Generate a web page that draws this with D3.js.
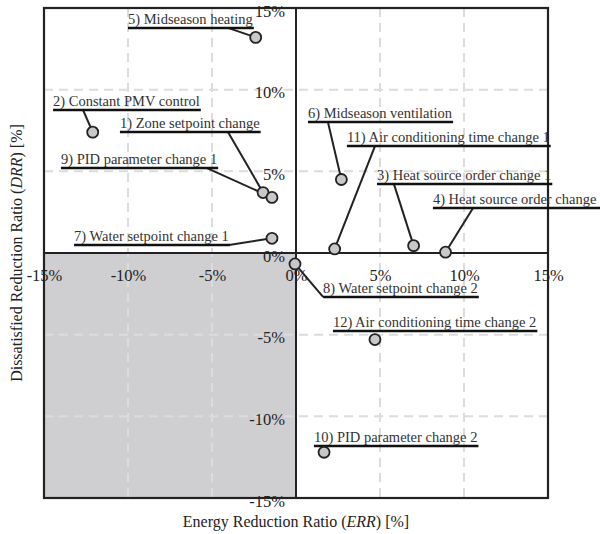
<!DOCTYPE html>
<html>
<head>
<meta charset="utf-8">
<script src="https://cdn.jsdelivr.net/npm/d3@7"></script>
<style>
    body { margin: 0; background: #fff; }
    text { font-family: "Liberation Serif", "Times New Roman", serif; }
</style>
</head>
<body>
<div class="chart"></div>
<script>
// measures (ERR, DRR) in %
const names = [
    "1) Zone setpoint change", "2) Constant PMV control", "3) Heat source order change 1",
    "4) Heat source order change 2", "5) Midseason heating", "6) Midseason ventilation",
    "7) Water setpoint change 1", "8) Water setpoint change 2", "9) PID parameter change 1",
    "10) PID parameter change 2", "11) Air conditioning time change 1", "12) Air conditioning time change 2"
];
const errValues = [-1.96, -12.1, 7.0, 8.9, -2.4, 2.7, -1.43, -0.06, -1.43, 1.67, 2.3, 4.7];
const drrValues = [3.7, 7.4, 0.45, 0.05, 13.2, 4.5, 0.9, -0.67, 3.4, -12.2, 0.25, -5.3];

// label anchors (start of underline) and leader attach point, in data units
const labelErr = [-10.48, -14.46, 4.82, 8.15, -10.0, 0.71, -13.21, 1.61, -13.99, 1.07, 3.03, 2.2];
const labelDrr = [7.41, 8.76, 4.22, 2.76, 13.78, 8.02, 0.49, -2.69, 5.2, -11.82, 6.55, -4.78];
const leaderErr = [-4.05, -12.68, 5.83, 10.54, -4.05, 1.9, -3.99, 1.61, -5.3, null, 4.7, null];

const xTicks = [-15, -10, -5, 0, 5, 10, 15];
const yTicks = [-15, -10, -5, 0, 5, 10, 15];

const width = 600, height = 534;
const margin = { top: 8, right: 52, bottom: 36, left: 44 };

const svg = d3.select(".chart").append("svg")
    .attr("width", width)
    .attr("height", height);

const x = d3.scaleLinear().domain([-15, 15]).range([margin.left, width - margin.right]);
const y = d3.scaleLinear().domain([-15, 15]).range([height - margin.bottom, margin.top]);

// shaded quadrant (both ratios negative)
svg.append("rect")
    .attr("x", x(-15)).attr("y", y(0))
    .attr("width", x(0) - x(-15)).attr("height", y(-15) - y(0))
    .attr("fill", "#cfcfd1");

// dashed grid
const grid = svg.append("g")
    .attr("stroke", "#dcdcdc")
    .attr("stroke-width", 2)
    .attr("stroke-dasharray", "9,6");
grid.selectAll(".gx")
    .data(xTicks.filter(d => d !== 0 && Math.abs(d) !== 15))
    .join("line")
    .attr("x1", d => x(d)).attr("x2", d => x(d))
    .attr("y1", y(15)).attr("y2", y(-15));
grid.selectAll(".gy")
    .data(yTicks.filter(d => d !== 0 && Math.abs(d) !== 15))
    .join("line")
    .attr("y1", d => y(d)).attr("y2", d => y(d))
    .attr("x1", x(-15)).attr("x2", x(15));

// zero lines + frame
svg.append("line")
    .attr("x1", x(0)).attr("x2", x(0)).attr("y1", y(15)).attr("y2", y(-15))
    .attr("stroke", "#222").attr("stroke-width", 2);
svg.append("line")
    .attr("x1", x(-15)).attr("x2", x(15)).attr("y1", y(0)).attr("y2", y(0))
    .attr("stroke", "#222").attr("stroke-width", 2);
svg.append("rect")
    .attr("x", x(-15)).attr("y", y(15))
    .attr("width", x(15) - x(-15)).attr("height", y(-15) - y(15))
    .attr("fill", "none").attr("stroke", "#222").attr("stroke-width", 2.2);

// axes through the origin
const xAxis = svg.append("g")
    .attr("transform", `translate(0,${y(0)})`)
    .call(d3.axisBottom(x).tickValues(xTicks).tickSize(0).tickPadding(16).tickFormat(d => d + "%"));
const yAxis = svg.append("g")
    .attr("transform", `translate(${x(0)},0)`)
    .call(d3.axisLeft(y).tickValues(yTicks).tickSize(0).tickPadding(11).tickFormat(d => d + "%"));
[xAxis, yAxis].forEach(g => {
    g.select(".domain").remove();
    g.selectAll("text")
        .attr("font-size", 16.5)
        .attr("fill", "#222");
});
yAxis.selectAll("text").attr("dy", "0.5em");

// axis titles
const xTitle = svg.append("text")
    .attr("x", x(0)).attr("y", 527)
    .attr("text-anchor", "middle")
    .attr("font-size", 16).attr("fill", "#222");
xTitle.append("tspan").text("Energy Reduction Ratio (");
xTitle.append("tspan").attr("font-style", "italic").text("ERR");
xTitle.append("tspan").text(") [%]");

const yTitle = svg.append("text")
    .attr("transform", `translate(22,${y(0)}) rotate(-90)`)
    .attr("text-anchor", "middle")
    .attr("font-size", 16).attr("fill", "#222");
yTitle.append("tspan").text("Dissatisfied Reduction Ratio (");
yTitle.append("tspan").attr("font-style", "italic").text("DRR");
yTitle.append("tspan").text(") [%]");

// annotations
const idx = d3.range(names.length);

svg.append("g").selectAll("line")
    .data(idx.filter(i => leaderErr[i] !== null))
    .join("line")
    .attr("x1", i => x(leaderErr[i])).attr("y1", i => y(labelDrr[i]))
    .attr("x2", i => x(errValues[i])).attr("y2", i => y(drrValues[i]))
    .attr("stroke", "#222").attr("stroke-width", 2);

const labels = svg.append("g").selectAll("g")
    .data(idx)
    .join("g");
labels.append("text")
    .attr("x", i => x(labelErr[i]))
    .attr("y", i => y(labelDrr[i]) - 4)
    .attr("font-size", 14.5)
    .attr("fill", "#333")
    .text(i => names[i]);
labels.each(function(i) {
    const len = d3.select(this).select("text").node().getComputedTextLength();
    let x2 = x(labelErr[i]) + len + 1;
    if (leaderErr[i] !== null) x2 = Math.max(x2, x(leaderErr[i]));
    d3.select(this).append("line")
        .attr("x1", x(labelErr[i])).attr("x2", x2)
        .attr("y1", y(labelDrr[i])).attr("y2", y(labelDrr[i]))
        .attr("stroke", "#111").attr("stroke-width", 2.5);
});

// points
svg.append("g").selectAll("circle")
    .data(idx)
    .join("circle")
    .attr("cx", i => x(errValues[i]))
    .attr("cy", i => y(drrValues[i]))
    .attr("r", 5.5)
    .attr("fill", "#c8c8c8")
    .attr("stroke", "#222")
    .attr("stroke-width", 1.8);
</script>
</body>
</html>
